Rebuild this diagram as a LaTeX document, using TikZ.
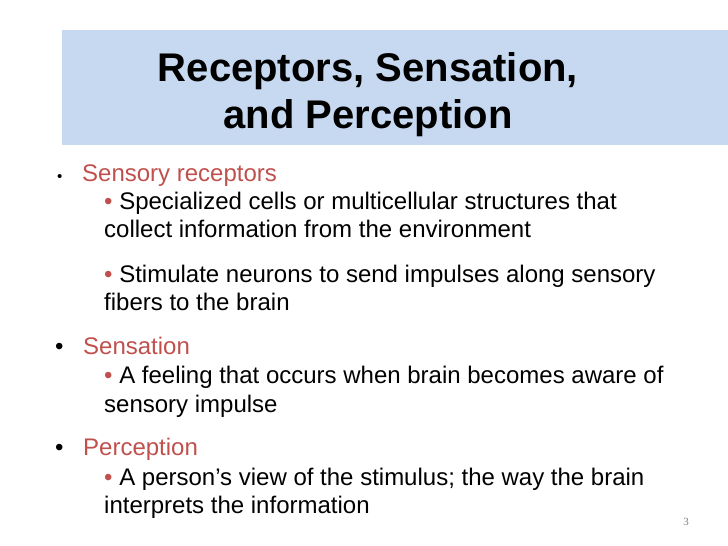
\documentclass[tikz,border=0pt]{standalone}
\usepackage{fontspec}
\setmainfont{Liberation Sans}
\newfontfamily\serifnum{Liberation Serif}
\definecolor{band}{RGB}{198,217,240}
\definecolor{accent}{RGB}{192,80,77}
\begin{document}
\begin{tikzpicture}[x=1pt,y=-1pt,
  lone/.style={anchor=base west,inner sep=0pt,font=\fontsize{24}{28}\selectfont},
  ltwo/.style={anchor=base west,inner sep=0pt,font=\fontsize{24}{28}\selectfont},
  ttl/.style={anchor=base,inner sep=0pt,font=\fontsize{40}{46}\selectfont\bfseries}]
\useasboundingbox (0,0) rectangle (728,546);
\fill[band] (62,30) rectangle (728,145);
\node[ttl] (t1) at (368,81) {Receptors, Sensation,};
\node[ttl] (t2) at (368,128) {and Perception};
\node[lone,font=\fontsize{15}{16}\selectfont] (d1) at (57,181) {•};
\node[lone,text=accent] (b1) at (82,181) {Sensory receptors};
\node[ltwo] (b1a) at (104,209) {\textcolor{accent}{•} Specialized cells or multicellular structures that};
\node[ltwo] (b1b) at (104,237) {collect information from the environment};
\node[ltwo] (b1c) at (104,282) {\textcolor{accent}{•} Stimulate neurons to send impulses along sensory};
\node[ltwo] (b1d) at (104,310) {fibers to the brain};
\node[lone] (d2) at (55,354) {•};
\node[lone,text=accent] (b2) at (83,354) {Sensation};
\node[ltwo] (b2a) at (104,383) {\textcolor{accent}{•} A feeling that occurs when brain becomes aware of};
\node[ltwo] (b2b) at (104,412) {sensory impulse};
\node[lone] (d3) at (55,455) {•};
\node[lone,text=accent] (b3) at (83,455) {Perception};
\node[ltwo] (b3a) at (104,485) {\textcolor{accent}{•} A person’s view of the stimulus; the way the brain};
\node[ltwo] (b3b) at (104,513) {interprets the information};
\node[anchor=base,inner sep=0pt,font=\serifnum\fontsize{11}{13}\selectfont,text=gray] (pn) at (686,525) {3};
\end{tikzpicture}
\end{document}
